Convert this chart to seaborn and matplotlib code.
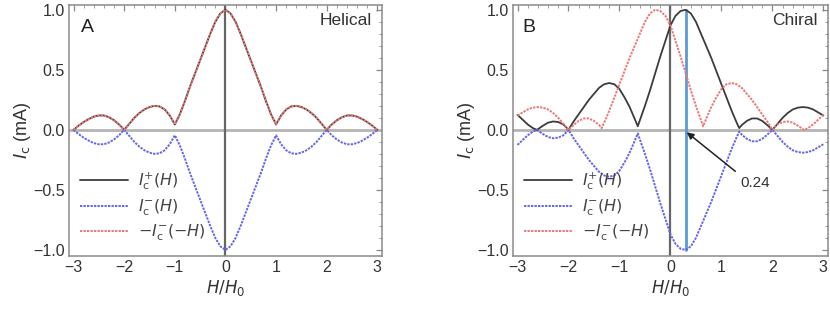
import numpy as np
import pandas as pd
import matplotlib
matplotlib.use("Agg")
import matplotlib.pyplot as plt
import seaborn as sns
from matplotlib.ticker import MultipleLocator

sns.set_style("white")
plt.rcParams['font.family'] = ['Liberation Sans', 'DejaVu Sans']
plt.rcParams['mathtext.fontset'] = 'dejavusans'

# ---------------- data ----------------
# Panel A (helical): Ic+(H), sampled on H/H0
hA = [-3.0, -2.9, -2.8, -2.7, -2.6, -2.5, -2.4, -2.3, -2.2, -2.1, -2.0,
      -1.9, -1.8, -1.7, -1.6, -1.5, -1.4, -1.3, -1.2, -1.1, -1.0,
      -0.9, -0.8, -0.7, -0.6, -0.5, -0.4, -0.3, -0.2, -0.1, 0.0,
      0.1, 0.2, 0.3, 0.4, 0.5, 0.6, 0.7, 0.8, 0.9, 1.0,
      1.1, 1.2, 1.3, 1.4, 1.5, 1.6, 1.7, 1.8, 1.9, 2.0,
      2.1, 2.2, 2.3, 2.4, 2.5, 2.6, 2.7, 2.8, 2.9, 3.0]
icA = [0.0, 0.035, 0.065, 0.09, 0.11, 0.12, 0.12, 0.105, 0.08, 0.045, 0.0,
       0.05, 0.10, 0.14, 0.17, 0.19, 0.20, 0.195, 0.17, 0.12, 0.045,
       0.13, 0.24, 0.36, 0.47, 0.58, 0.69, 0.80, 0.90, 0.97, 1.0,
       0.97, 0.90, 0.80, 0.69, 0.58, 0.47, 0.36, 0.24, 0.13, 0.045,
       0.12, 0.17, 0.195, 0.20, 0.19, 0.17, 0.14, 0.10, 0.05, 0.0,
       0.045, 0.08, 0.105, 0.12, 0.12, 0.11, 0.09, 0.065, 0.035, 0.0]

# Panel B (chiral): Ic+(H)
hB = [-3.0, -2.9, -2.8, -2.7, -2.62, -2.5, -2.4, -2.3, -2.2, -2.1, -2.0,
      -1.9, -1.8, -1.7, -1.6, -1.5, -1.4, -1.3, -1.2, -1.1, -1.0,
      -0.9, -0.8, -0.7, -0.64, -0.6, -0.5, -0.4, -0.3, -0.2, -0.1, 0.0,
      0.1, 0.2, 0.3, 0.4, 0.5, 0.6, 0.7, 0.8, 0.9, 1.0,
      1.1, 1.2, 1.3, 1.35, 1.4, 1.5, 1.6, 1.7, 1.8, 1.9, 2.0,
      2.1, 2.2, 2.3, 2.4, 2.5, 2.6, 2.7, 2.8, 2.9, 3.0]
icB = [0.125, 0.085, 0.045, 0.015, 0.0, 0.035, 0.06, 0.07, 0.065, 0.045, 0.0,
       0.07, 0.13, 0.19, 0.25, 0.30, 0.35, 0.38, 0.39, 0.38, 0.34,
       0.27, 0.19, 0.09, 0.03, 0.08, 0.20, 0.33, 0.47, 0.61, 0.74, 0.87,
       0.95, 0.99, 1.0, 0.97, 0.90, 0.80, 0.70, 0.60, 0.49, 0.38,
       0.27, 0.16, 0.06, 0.015, 0.04, 0.075, 0.095, 0.095, 0.075, 0.04, 0.0,
       0.05, 0.10, 0.14, 0.17, 0.185, 0.19, 0.185, 0.17, 0.145, 0.12]

peak_B = 0.24
legend_labels = [r"$I_\mathrm{c}^{+}(H)$", r"$I_\mathrm{c}^{-}(H)$", r"$-I_\mathrm{c}^{-}(-H)$"]


def series(h, ic):
    h = np.asarray(h, float)
    ic = np.asarray(ic, float)
    rows = [
        pd.DataFrame({"H": h, "Ic": ic, "curve": legend_labels[0]}),
        pd.DataFrame({"H": h, "Ic": -ic, "curve": legend_labels[1]}),
        pd.DataFrame({"H": -h[::-1], "Ic": ic[::-1], "curve": legend_labels[2]}),
    ]
    return pd.concat(rows, ignore_index=True)


fig = plt.figure(figsize=(8.3, 3.11), dpi=100)
axA = fig.add_axes([0.0831, 0.177, 0.377, 0.807])
axB = fig.add_axes([0.618, 0.177, 0.3795, 0.807])

colors = ["#3c3c3c", "#6464ee", "#ee7878"]
styles = ["-", (0, (1.2, 0.6)), (0, (1.2, 0.6))]
lws = [1.3, 1.4, 1.4]

for ax, h, ic, tag, name in [(axA, hA, icA, "A", "Helical"), (axB, hB, icB, "B", "Chiral")]:
    df = series(h, ic)
    ax.axhline(0, color="#b4b4b4", lw=2.0, zorder=1)
    ax.axvline(0, color="#666666", lw=1.6, zorder=1)
    for lab, c, ls, lw in zip(legend_labels, colors, styles, lws):
        sub = df[df["curve"] == lab]
        sns.lineplot(data=sub, x="H", y="Ic", ax=ax, color=c, lw=lw,
                     linestyle=ls, label=lab, sort=False, estimator=None, zorder=3)
    ax.set_xlim(-3.09, 3.09)
    ax.set_ylim(-1.05, 1.04)
    ax.set_xticks([-3, -2, -1, 0, 1, 2, 3])
    ax.set_xticklabels(["\u22123", "\u22122", "\u22121", "0", "1", "2", "3"])
    ax.set_yticks([-1.0, -0.5, 0.0, 0.5, 1.0])
    ax.set_yticklabels(["\u22121.0", "\u22120.5", "0.0", "0.5", "1.0"])
    ax.xaxis.set_minor_locator(MultipleLocator(0.2))
    ax.yaxis.set_minor_locator(MultipleLocator(0.1))
    ax.tick_params(which="both", direction="in", top=True, right=True,
                   color="#888888", labelsize=11.5, labelcolor="#333333", pad=3)
    ax.tick_params(which="major", length=4, width=0.9)
    ax.tick_params(which="minor", length=2, width=0.6)
    for s in ax.spines.values():
        s.set_color("#8a8a8a")
        s.set_linewidth(1.1)
    ax.set_xlabel(r"$H/H_0$", fontsize=12, color="#333333", labelpad=2)
    ax.set_ylabel(r"$I_\mathrm{c}$ (mA)", fontsize=13, color="#333333", labelpad=0)
    ax.text(0.058 if tag == "A" else 0.05, 0.91, tag, transform=ax.transAxes,
            fontsize=14, color="#222222", ha="center", va="center")
    ax.text(0.885 if tag == "A" else 0.895, 0.94, name, transform=ax.transAxes,
            fontsize=12.5, color="#333333", ha="center", va="center")
    leg = ax.legend(loc="center left", bbox_to_anchor=(0.0, 0.196), frameon=False,
                    fontsize=11.5, handlelength=3.0, handletextpad=0.6,
                    labelspacing=0.3, borderaxespad=0.3)
    for t in leg.get_texts():
        t.set_color("#444444")

# Panel B marker of peak position
axB.plot([peak_B + 0.06, peak_B + 0.06], [-1.0, 1.0], color="#5b9bd5", lw=2.0, zorder=2)
axB.annotate("0.24", xy=(peak_B + 0.08, -0.02), xytext=(1.38, -0.44),
             fontsize=11, color="#333333", ha="left", va="center",
             arrowprops=dict(arrowstyle="-|>", color="#222222", lw=1.1,
                             relpos=(0.0, 1.0), shrinkA=2, shrinkB=0,
                             mutation_scale=10))

fig.savefig("out.png", dpi=100)
